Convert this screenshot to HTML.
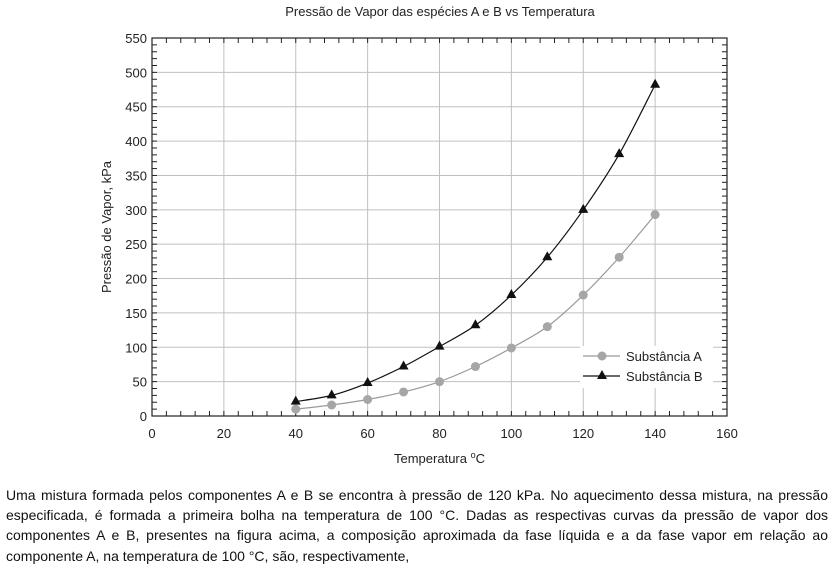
<!DOCTYPE html>
<html><head><meta charset="utf-8"><style>
body{margin:0;background:#fff;width:833px;height:568px;overflow:hidden;font-family:"Liberation Sans",sans-serif;}
#para{position:absolute;left:6px;top:485px;width:822px;font-size:14px;line-height:20.2px;color:#111;text-align:justify;}
</style></head><body>
<svg id="chart" width="833" height="480" style="position:absolute;left:0;top:0" font-family="Liberation Sans, sans-serif"></svg>
<div id="para">Uma mistura formada pelos componentes A e B se encontra à pressão de 120 kPa. No aquecimento dessa mistura, na pressão especificada, é formada a primeira bolha na temperatura de 100 °C. Dadas as respectivas curvas da pressão de vapor dos componentes A e B, presentes na figura acima, a composição aproximada da fase líquida e a da fase vapor em relação ao componente A, na temperatura de 100 °C, são, respectivamente,</div>
<script>
const temps=[40,50,60,70,80,90,100,110,120,130,140];
const seriesA=[10,16,24,35,50,72,99,130,176,231,293];
const seriesB=[21,30,48,72,101,132,176,231,300,381,482];
const xTicks=[0,20,40,60,80,100,120,140,160];
const yTicks=[0,50,100,150,200,250,300,350,400,450,500,550];
const L=152,R=727,T=38,B=416;
const sx=v=>L+(v-0)/(160-0)*(R-L);
const sy=v=>B-(v-0)/(550-0)*(B-T);
const svg=document.getElementById('chart');
const NS='http://www.w3.org/2000/svg';
function mk(tag,at,parent){const e=document.createElementNS(NS,tag);for(const k in at)e.setAttribute(k,at[k]);(parent||svg).appendChild(e);return e;}
let t=mk('text',{x:440,y:16,'font-size':13,'text-anchor':'middle',fill:'#222'});t.textContent='Pressão de Vapor das espécies A e B vs Temperatura';


xTicks.forEach(v=>{const l=mk('line',{x1:sx(v),x2:sx(v),y1:T,y2:B,stroke:'#c0c0c0','stroke-width':1});


const tx=mk('text',{x:sx(v),y:B+22,'font-size':13,'text-anchor':'middle',fill:'#222'});tx.textContent=v;

});
yTicks.forEach(v=>{const l=mk('line',{x1:L,x2:R,y1:sy(v),y2:sy(v),stroke:'#c0c0c0','stroke-width':1});


const tx=mk('text',{x:L-5,y:sy(v)+5,'font-size':13,'text-anchor':'end',fill:'#222'});tx.textContent=v;

});
for(let v=0;v<=160;v+=4){[[B,-5],[T,5]].forEach(([y,d])=>mk('line',{x1:sx(v),x2:sx(v),y1:y,y2:y+d,stroke:'#222','stroke-width':1}));}
for(let v=0;v<=550;v+=10){[[L,5],[R,-5]].forEach(([x,d])=>mk('line',{x1:x,x2:x+d,y1:sy(v),y2:sy(v),stroke:'#222','stroke-width':1}));}
const frame=mk('rect',{x:L,y:T,width:R-L,height:B-T,fill:'none',stroke:'#222','stroke-width':1.2});


let xt=mk('text',{x:sx(80),y:463,'font-size':13,'text-anchor':'middle',fill:'#222'});xt.innerHTML='Temperatura <tspan dy="-5" font-size="9">o</tspan><tspan dy="5">C</tspan>';


let yt=mk('text',{x:0,y:0,'font-size':13,'text-anchor':'middle',fill:'#222',transform:`translate(111,${sy(275)}) rotate(-90)`});yt.textContent='Pressão de Vapor, kPa';


function curve(vals,color){let d='';const pts=temps.map((x,i)=>[sx(x),sy(vals[i])]);
d='M'+pts[0];for(let i=0;i<pts.length-1;i++){const p0=pts[i-1]||pts[i],p1=pts[i],p2=pts[i+1],p3=pts[i+2]||p2;
d+=` C${p1[0]+(p2[0]-p0[0])/6},${p1[1]+(p2[1]-p0[1])/6} ${p2[0]-(p3[0]-p1[0])/6},${p2[1]-(p3[1]-p1[1])/6} ${p2[0]},${p2[1]}`;}
return mk('path',{d,fill:'none',stroke:color,'stroke-width':1.2});}
const cA=curve(seriesA,'#999');


const cB=curve(seriesB,'#111');


temps.forEach((x,i)=>{const c=mk('circle',{cx:sx(x),cy:sy(seriesA[i]),r:4.5,fill:'#a6a6a6'});


const X=sx(x),Y=sy(seriesB[i]);const p=mk('polygon',{points:`${X},${Y-6} ${X-5},${Y+3} ${X+5},${Y+3}`,fill:'#111'});

});
const lg=mk('g',{});


mk('rect',{x:580,y:346,width:133,height:42,fill:'#fff'},lg);
mk('line',{x1:583,x2:620,y1:356,y2:356,stroke:'#999','stroke-width':1.2},lg);
mk('circle',{cx:602,cy:356,r:4.5,fill:'#a6a6a6'},lg);
let la=mk('text',{x:626,y:361,'font-size':13,fill:'#222'},lg);la.textContent='Substância A';


mk('line',{x1:583,x2:620,y1:376,y2:376,stroke:'#111','stroke-width':1.2},lg);
mk('polygon',{points:'602,370 597,379 607,379',fill:'#111'},lg);
let lb=mk('text',{x:626,y:381,'font-size':13,fill:'#222'},lg);lb.textContent='Substância B';


</script>
</body></html>
